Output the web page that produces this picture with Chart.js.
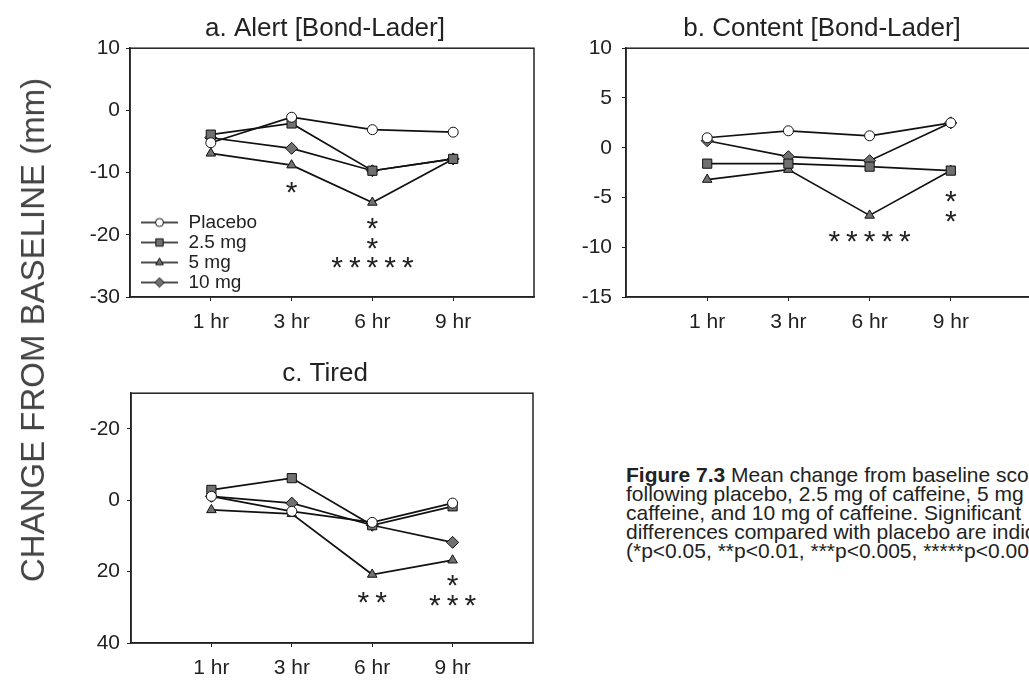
<!DOCTYPE html>
<html>
<head>
<meta charset="utf-8">
<script src="https://cdn.jsdelivr.net/npm/chart.js@4/dist/chart.umd.min.js"></script>
<style>
  html, body { margin: 0; padding: 0; background: #fff; overflow: hidden; width: 1029px; height: 682px; }
  canvas { position: absolute; }
  #chartA { left: 0; top: 0; }
  #chartB { left: 540px; top: 0; }
  #chartC { left: 0; top: 345px; }
  #ytitle {
    position: absolute; left: 33px; top: 330px;
    transform: translate(-50%, -50%) rotate(-90deg);
    font: 33px "Liberation Sans", Arial, sans-serif; color: #444; white-space: nowrap;
  }
  #caption {
    position: absolute; left: 626px; top: 465px;
    font: 21px "Liberation Sans", Arial, sans-serif; line-height: 19px; color: #222; white-space: nowrap;
  }
</style>
</head>
<body>
<canvas id="chartA" width="545" height="345"></canvas>
<canvas id="chartB" width="510" height="345"></canvas>
<canvas id="chartC" width="545" height="337"></canvas>
<div id="ytitle">CHANGE FROM BASELINE (mm)</div>
<div id="caption"><b>Figure 7.3</b> Mean change from baseline scores<br>following placebo, 2.5 mg of caffeine, 5 mg of<br>caffeine, and 10 mg of caffeine. Significant<br>differences compared with placebo are indicated<br>(*p&lt;0.05, **p&lt;0.01, ***p&lt;0.005, *****p&lt;0.001)</div>

<script>
// categories
const timeLabels = ['1 hr', '3 hr', '6 hr', '9 hr'];
const timeSteps = [1, 2, 3, 4];
const seriesNames = ['Placebo', '2.5 mg', '5 mg', '10 mg'];

// a. Alert
const alertPlacebo = [-5.2, -1.1, -3.1, -3.5];
const alert25 = [-3.9, -2.1, -9.7, -7.8];
const alert5 = [-6.9, -8.8, -14.8, -7.8];
const alert10 = [-4.4, -6.1, -9.7, -7.8];
const alertTicks = [-30, -20, -10, 0, 10];
const alertStars = [[2, -11.9, '*'], [3, -17.8, '*'], [3, -21.0, '*'], [3, -24.1, '*****']];

// b. Content
const contentPlacebo = [1.0, 1.7, 1.2, 2.5];
const content25 = [-1.6, -1.6, -1.9, -2.3];
const content5 = [-3.2, -2.2, -6.8, -2.3];
const content10 = [0.7, -0.9, -1.3, 2.5];
const contentTicks = [-15, -10, -5, 0, 5, 10];
const contentStars = [[3, -8.7, '*****'], [4, -4.6, '*'], [4, -6.6, '*']];

// c. Tired (axis reversed)
const tiredPlacebo = [-1.1, 3.1, 6.2, 0.8];
const tired25 = [-2.9, -6.2, 7.0, 1.7];
const tired5 = [2.7, 3.8, 20.8, 16.8];
const tired10 = [-1.1, 0.8, 7.0, 11.8];
const tiredTicks = [-20, 0, 20, 40];
const tiredStars = [[3, 26.4, '**'], [4, 21.7, '*'], [4, 27.3, '***']];

const fontFamily = '"Liberation Sans", Arial, sans-serif';
const ink = '#222';
const tickFont = { family: fontFamily, size: 21 };

const markers = [
  { pointStyle: 'circle', radius: 5, fill: '#fff' },
  { pointStyle: 'rect', radius: 6.5, fill: '#707070' },
  { pointStyle: 'triangle', radius: 5.5, fill: '#707070' },
  { pointStyle: 'rectRot', radius: 6, fill: '#707070' },
];

function makeDatasets(series) {
  return series.map((values, i) => ({
    label: seriesNames[i],
    data: values.map((v, j) => ({ x: timeSteps[j], y: v })),
    borderColor: '#111',
    borderWidth: 1.7,
    pointStyle: markers[i].pointStyle,
    pointRadius: markers[i].radius,
    pointBackgroundColor: markers[i].fill,
    pointBorderColor: '#111',
    pointBorderWidth: 1,
  }));
}

// small line+marker icons for the legend
function legendIcon(m) {
  const c = document.createElement('canvas');
  c.width = 48; c.height = 14;
  const g = c.getContext('2d');
  g.strokeStyle = '#111'; g.lineWidth = 1.6;
  g.beginPath(); g.moveTo(10, 7); g.lineTo(47, 7); g.stroke();
  const cx = 28.5, cy = 7, r = m.radius * 0.8;
  g.fillStyle = m.fill; g.lineWidth = 1;
  g.beginPath();
  if (m.pointStyle === 'circle') {
    g.arc(cx, cy, r, 0, Math.PI * 2);
  } else if (m.pointStyle === 'rect') {
    const s = r * Math.SQRT1_2;
    g.rect(cx - s, cy - s, 2 * s, 2 * s);
  } else if (m.pointStyle === 'triangle') {
    g.moveTo(cx, cy - r); g.lineTo(cx + r * 0.87, cy + r * 0.5); g.lineTo(cx - r * 0.87, cy + r * 0.5); g.closePath();
  } else {
    g.moveTo(cx, cy - r); g.lineTo(cx + r, cy); g.lineTo(cx, cy + r); g.lineTo(cx - r, cy); g.closePath();
  }
  g.fill(); g.stroke();
  return c;
}
const legendIcons = markers.map(legendIcon);

function xScale(height) {
  return {
    type: 'linear', min: 0, max: 5,
    afterBuildTicks: s => { s.ticks = timeSteps.map(v => ({ value: v })); },
    afterFit: s => { s.height = height; },
    ticks: {
      font: tickFont, color: ink, padding: 9, maxRotation: 0, autoSkip: false,
      callback: v => timeLabels[timeSteps.indexOf(v)],
    },
    grid: { drawOnChartArea: false, tickLength: 4, color: ink },
    border: { color: ink, width: 1.5 },
  };
}

function yScale(ticks, width, pad, reverse) {
  return {
    type: 'linear', min: Math.min(...ticks), max: Math.max(...ticks), reverse: reverse,
    afterBuildTicks: s => { s.ticks = ticks.map(v => ({ value: v })); },
    afterFit: s => { s.width = width; },
    ticks: { font: tickFont, color: ink, padding: pad },
    grid: { drawOnChartArea: false, tickLength: 4, color: ink },
    border: { color: ink, width: 1.5 },
  };
}

// frame, star labels, title centring
const panelPlugin = {
  id: 'panel',
  afterLayout(chart) {
    const a = chart.chartArea;
    if (chart.titleBlock) {
      chart.titleBlock.left = a.left - 14;
      chart.titleBlock.right = a.right;
    }
    if (chart.legend && chart.options.plugins.legend.display) {
      chart.legend.bottom = a.bottom - 4;
    }
  },
  afterDraw(chart, args, opts) {
    const { ctx, chartArea: a, scales } = chart;
    ctx.save();
    ctx.strokeStyle = ink;
    ctx.lineWidth = 1.5;
    ctx.strokeRect(a.left, a.top, a.width, a.height);
    const size = 30;
    ctx.fillStyle = ink;
    ctx.font = size + 'px ' + fontFamily;
    ctx.textAlign = 'center';
    ctx.textBaseline = 'alphabetic';
    (opts.stars || []).forEach(([x, y, t]) => {
      const text = t.split('').join('\u2009');
      ctx.fillText(text, scales.x.getPixelForValue(x), scales.y.getPixelForValue(y) + size * 0.57);
    });
    ctx.restore();
  }
};

function makeChart(id, title, series, yOpts, stars, xHeight, padRight, showLegend) {
  const y = yScale(yOpts.ticks, yOpts.width, yOpts.pad, yOpts.reverse);
  if (yOpts.min !== undefined) y.min = yOpts.min;
  return new Chart(document.getElementById(id), {
    type: 'line',
    data: { datasets: makeDatasets(series) },
    options: {
      responsive: false,
      animation: false,
      devicePixelRatio: 1,
      events: [],
      layout: { padding: { left: 0, right: padRight, top: 0, bottom: 0 } },
      scales: { x: xScale(xHeight), y: y },
      plugins: {
        title: {
          display: true, text: title, color: ink,
          font: { family: fontFamily, size: 26, weight: 'normal' },
          padding: { top: 13, bottom: 4 },
        },
        legend: {
          display: showLegend,
          position: 'chartArea',
          align: 'end',
          labels: {
            usePointStyle: true, pointStyleWidth: 48, padding: 1, color: ink,
            font: { family: fontFamily, size: 19, lineHeight: 1 },
            generateLabels: chart => Chart.defaults.plugins.legend.labels.generateLabels(chart)
              .map((item, i) => ({ ...item, pointStyle: legendIcons[i] })),
          },
        },
        tooltip: { enabled: false },
        panel: { stars: stars },
      },
    },
    plugins: [panelPlugin],
  });
}

makeChart('chartA', 'a. Alert [Bond-Lader]',
  [alertPlacebo, alert25, alert5, alert10],
  { ticks: alertTicks, width: 130, pad: 6, reverse: false },
  alertStars, 48, 11, true);

makeChart('chartB', 'b. Content [Bond-Lader]',
  [contentPlacebo, content25, content5, content10],
  { ticks: contentTicks, width: 86, pad: 10, reverse: false },
  contentStars, 48, 18, false);

makeChart('chartC', 'c. Tired',
  [tiredPlacebo, tired25, tired5, tired10],
  { ticks: tiredTicks, width: 131, pad: 7, reverse: true, min: -30 },
  tiredStars, 39, 12, false);
</script>
</body>
</html>
